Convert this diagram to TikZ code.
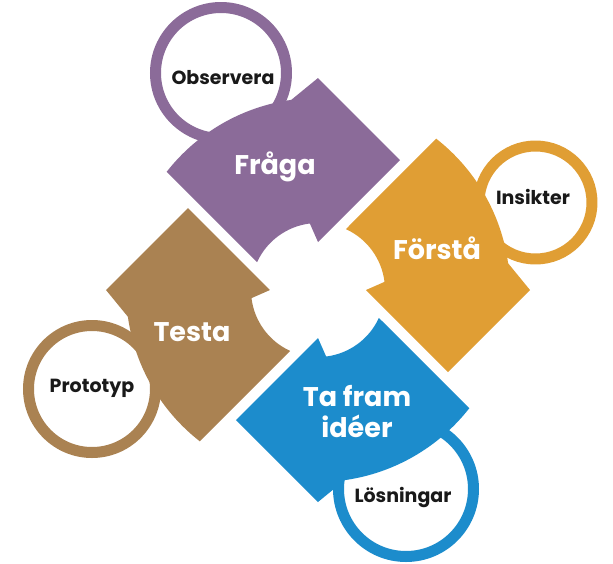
\documentclass[tikz,border=0pt]{standalone}
\usepackage{fontspec}
\setmainfont{Poppins}
\usetikzlibrary{positioning}
\definecolor{cyclePurple}{RGB}{139,107,153}
\definecolor{cycleOrange}{RGB}{224,158,52}
\definecolor{cycleBlue}{RGB}{28,140,204}
\definecolor{cycleBrown}{RGB}{170,130,82}
\tikzset{
    pinwheel/.style={x=1pt, y=1pt, line join=round},
    ring/.style={draw=#1, line width=11pt, fill=white},
    steplabel/.style={text=white, font=\fontsize{27}{31}\selectfont\bfseries,
                      align=center, inner sep=0pt},
    ringlabel/.style={text=black!90, font=\fontsize{19}{22}\selectfont\bfseries,
                      inner sep=0pt},
}

\begin{document}
\begin{tikzpicture}[pinwheel]
\useasboundingbox (-318,-273) rectangle (295,290);

% ─── Cirklar (under pilarna) ────────────────────────────────────────────
\draw[ring=cyclePurple] (-97,217)   circle (65.5);
\draw[ring=cycleOrange] (217.5,87.5) circle (56.5);
\draw[ring=cycleBrown]  (-226,-99)  circle (63.5);
\draw[ring=cycleBlue]   (88,-199)   circle (67.5);

% ─── Pilar (samma form, vriden ett kvarts varv) ─────────────────────────
\foreach \ang/\col in {0/cyclePurple, -90/cycleOrange, -180/cycleBlue, -270/cycleBrown}{
    \fill[\col, rotate=\ang] (0,48) -- (82,130) -- (0,212) -- (98:192)
        arc[start angle=98, end angle=142, radius=192]
        -- (-60.9,27.9) arc[start angle=155.4, end angle=97, radius=67] -- cycle;
}

% ─── Texter ─────────────────────────────────────────────────────────────
\node[steplabel] (fraga)  at (-43,123)  {Fråga};
\node[steplabel] (forsta) at (119,42)   {Förstå};
\node[steplabel] (ideer)  at (39,-122)  {Ta fram\\idéer};
\node[steplabel] (testa)  at (-126,-42) {Testa};

\node[ringlabel] (observera) at (-95,212)  {Observera};
\node[ringlabel] (insikter)  at (215,93)   {Insikter};
\node[ringlabel] (losningar) at (85,-207)  {Lösningar};
\node[ringlabel] (prototyp)  at (-226,-98) {Prototyp};

\end{tikzpicture}
\end{document}
